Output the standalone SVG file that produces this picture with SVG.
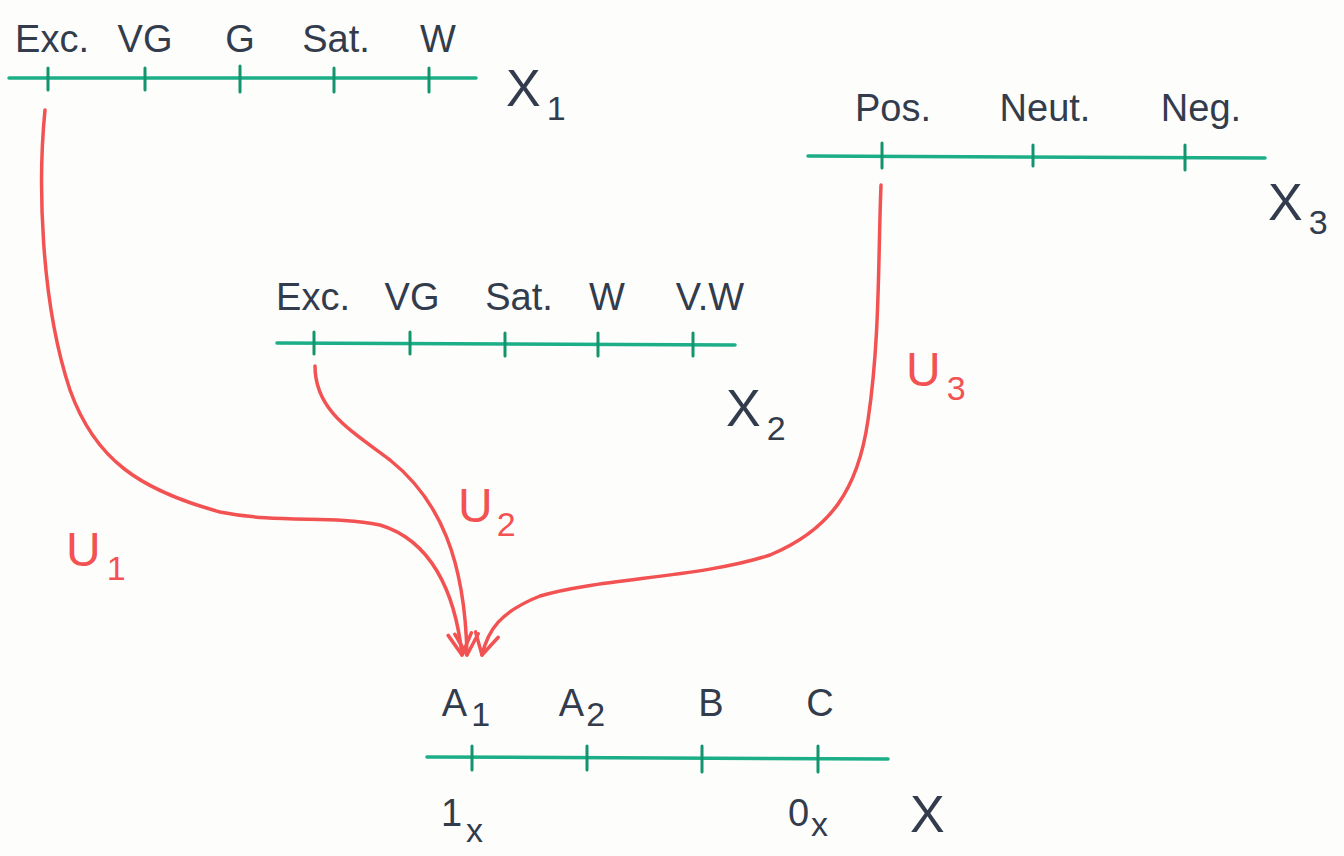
<svg xmlns="http://www.w3.org/2000/svg" width="1344" height="856" viewBox="0 0 1344 856">
<defs>
<marker id="ah" viewBox="0 0 12 12" refX="10" refY="6" markerWidth="8" markerHeight="8" orient="auto" markerUnits="strokeWidth">
<path d="M1,1 L10,6 L1,11" fill="none" stroke="#f25252" stroke-width="1.5" stroke-linecap="round" stroke-linejoin="round"/>
</marker>
<style>
.axis{stroke:#1cae86;stroke-width:3.5;fill:none;stroke-linecap:round}
.tick{stroke:#13946f;stroke-width:3;stroke-linecap:round}
.lbl{font-family:"Liberation Sans",Arial,sans-serif;font-size:38px;fill:#323c4c;text-anchor:middle}
.var{font-family:"Liberation Sans",Arial,sans-serif;font-size:52px;fill:#323c4c}
.sub{font-size:34px}
.u{font-family:"Liberation Sans",Arial,sans-serif;font-size:48px;fill:#f25252}
.conn{stroke:#f25252;stroke-width:3.5;fill:none;stroke-linecap:round;marker-end:url(#ah)}
</style>
</defs>
<rect width="1344" height="856" fill="#fdfdfc"/>

<g id="X1">
<line class="axis" x1="9" y1="78" x2="476" y2="78"/>
<line class="tick" x1="48" y1="68" x2="48" y2="90"/>
<line class="tick" x1="145" y1="68" x2="145" y2="90"/>
<line class="tick" x1="240" y1="66" x2="240" y2="92"/>
<line class="tick" x1="334" y1="68" x2="334" y2="92"/>
<line class="tick" x1="429" y1="68" x2="429" y2="92"/>
<text class="lbl" x="52" y="52">Exc.</text>
<text class="lbl" x="145" y="52">VG</text>
<text class="lbl" x="240" y="52">G</text>
<text class="lbl" x="336" y="52">Sat.</text>
<text class="lbl" x="438" y="52">W</text>
<text class="var" x="506" y="106">X<tspan class="sub" dx="6" dy="14">1</tspan></text>
</g>

<g id="X3">
<line class="axis" x1="808" y1="156" x2="1265" y2="158"/>
<line class="tick" x1="882" y1="143" x2="882" y2="168"/>
<line class="tick" x1="1033" y1="145" x2="1033" y2="166"/>
<line class="tick" x1="1185" y1="145" x2="1185" y2="170"/>
<text class="lbl" x="893" y="121">Pos.</text>
<text class="lbl" x="1045" y="121">Neut.</text>
<text class="lbl" x="1201" y="121">Neg.</text>
<text class="var" x="1268" y="220">X<tspan class="sub" dx="6" dy="14">3</tspan></text>
</g>

<g id="X2">
<line class="axis" x1="277" y1="343" x2="735" y2="345"/>
<line class="tick" x1="314" y1="332" x2="314" y2="354"/>
<line class="tick" x1="410" y1="332" x2="410" y2="354"/>
<line class="tick" x1="505" y1="333" x2="505" y2="356"/>
<line class="tick" x1="598" y1="333" x2="598" y2="356"/>
<line class="tick" x1="693" y1="333" x2="693" y2="356"/>
<text class="lbl" x="313" y="310">Exc.</text>
<text class="lbl" x="412" y="310">VG</text>
<text class="lbl" x="519" y="310">Sat.</text>
<text class="lbl" x="607" y="310">W</text>
<text class="lbl" x="710" y="310">V.W</text>
<text class="var" x="726" y="426">X<tspan class="sub" dx="6" dy="14">2</tspan></text>
</g>

<g id="X">
<line class="axis" x1="427" y1="757" x2="888" y2="759"/>
<line class="tick" x1="472" y1="746" x2="472" y2="770"/>
<line class="tick" x1="587" y1="746" x2="587" y2="770"/>
<line class="tick" x1="702" y1="746" x2="702" y2="772"/>
<line class="tick" x1="818" y1="746" x2="818" y2="772"/>
<text class="lbl" x="466" y="716">A<tspan class="sub" dx="4" dy="10">1</tspan></text>
<text class="lbl" x="582" y="716">A<tspan class="sub" dx="2" dy="10">2</tspan></text>
<text class="lbl" x="711" y="716">B</text>
<text class="lbl" x="820" y="716">C</text>
<text class="lbl" x="462" y="826">1<tspan class="sub" dx="4" dy="16">x</tspan></text>
<text class="lbl" x="808" y="826">0<tspan class="sub" dx="2" dy="10">x</tspan></text>
<text class="var" x="910" y="832">X</text>
</g>

<g id="connectors">
<path class="conn" d="M45,110 C38,180 40,300 70,390 C95,460 140,490 220,512 C280,524 330,515 380,525 C430,540 455,590 462,655"/>
<path class="conn" d="M315,366 C315,410 350,430 390,460 C440,500 465,560 467,655"/>
<path class="conn" d="M881,185 C878,260 880,340 868,420 C858,490 830,530 770,555 C700,578 600,578 540,596 C500,612 488,630 482,655"/>
<text class="u" x="66" y="566">U<tspan class="sub" dx="6" dy="14">1</tspan></text>
<text class="u" x="458" y="522">U<tspan class="sub" dx="4" dy="14">2</tspan></text>
<text class="u" x="906" y="386">U<tspan class="sub" dx="6" dy="14">3</tspan></text>
</g>
</svg>
